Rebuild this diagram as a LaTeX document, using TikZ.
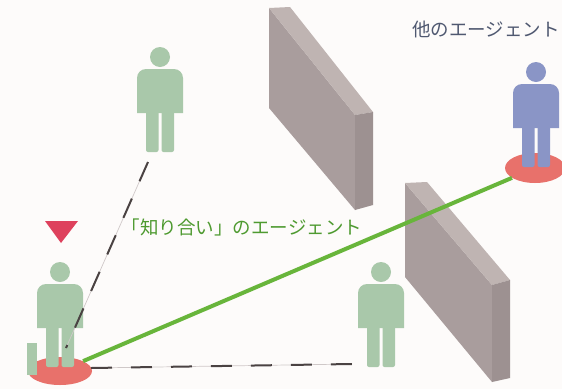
\documentclass[tikz,border=0pt]{standalone}
\usepackage{fontspec}
\newfontfamily\jpfont{Noto Sans CJK JP}
\usetikzlibrary{shapes.geometric}
\definecolor{paper}{HTML}{FDFBFA}
\definecolor{sage}{HTML}{A9C8AA}
\definecolor{agentblue}{HTML}{8A95C6}
\definecolor{basered}{HTML}{E8716B}
\definecolor{markred}{HTML}{DE415D}
\definecolor{linkgreen}{HTML}{68B53B}
\definecolor{textgreen}{HTML}{4E9A30}
\definecolor{textslate}{HTML}{4F5870}
\definecolor{dashgray}{HTML}{4A4242}
\definecolor{hairgray}{HTML}{CFC8C8}
\definecolor{wallface}{HTML}{A99D9D}
\definecolor{walltop}{HTML}{BFB4B2}
\definecolor{wallend}{HTML}{9D9191}
\tikzset{
  person/.pic={
    \fill (0,0) circle[radius=10pt];
    \fill (-23,56) -- (-23,21) arc[start angle=180,end angle=90,radius=9pt]
          -- (14,12) arc[start angle=90,end angle=0,radius=9pt] -- (23,56) -- cycle;
    \fill[rounded corners=2pt] (-14,50) rectangle (-1.5,95);
    \fill[rounded corners=2pt] (1.5,50) rectangle (14,95);
  },
  base/.style={ellipse, fill=basered, inner sep=0pt},
  hairline/.style={hairgray, line width=0.7pt},
  acquaint/.style={dashgray, line width=2pt, dash pattern=on 21pt off 19pt},
  link/.style={linkgreen, line width=4pt},
  jplabel/.style={font=\jpfont\fontsize{18.5}{21}\selectfont, inner sep=0pt}
}
\begin{document}
\begin{tikzpicture}[x=1pt,y=-1pt]
\useasboundingbox (0,0) rectangle (562,389);
\fill[paper] (0,0) rectangle (562,389);

% walls
\fill[wallface] (269,8) -- (355,115) -- (355,210) -- (269,108) -- cycle;
\fill[walltop] (269,8) -- (290,7) -- (373,112) -- (355,115) -- cycle;
\fill[wallend] (355,115) -- (373,112) -- (373,205) -- (355,210) -- cycle;

\fill[wallface] (405,183) -- (492,285) -- (492,382) -- (405,277) -- cycle;
\fill[walltop] (405,183) -- (427,182) -- (510,280) -- (492,285) -- cycle;
\fill[wallend] (492,285) -- (510,280) -- (510,378) -- (492,382) -- cycle;

% standing areas
\node[base, minimum width=64pt, minimum height=28pt] (meBase) at (60,371) {};
\node[base, minimum width=60pt, minimum height=30pt] (otherBase) at (535,168) {};

% agents
\pic[fill=sage] at (160,57) {person};
\pic[fill=sage] at (60,272) {person};
\pic[fill=sage] at (381,272) {person};
\pic[fill=agentblue] at (536,72) {person};

\fill[sage] (27,343) rectangle (37,375);
\fill[markred] (45,221) -- (78,221) -- (61,243) -- cycle;

% connections
\coordinate (meHip) at (66,348);
\coordinate (friendFeet) at (148,162);
\coordinate (meRight) at (91,368);
\coordinate (friendTwoFeet) at (352,364);
\draw[hairline] (meHip) -- (friendFeet);
\draw[hairline] (meRight) -- (friendTwoFeet);
\draw[acquaint] (friendFeet) -- (meHip);
\draw[acquaint] (meRight) -- (friendTwoFeet);
\draw[link] (meBase) -- (otherBase);

% labels
\node[jplabel, text=textslate] (otherLabel) at (486,29) {他のエージェント};
\node[jplabel, text=textgreen] (friendLabel) at (242,227) {「知り合い」のエージェント};
\end{tikzpicture}
\end{document}
